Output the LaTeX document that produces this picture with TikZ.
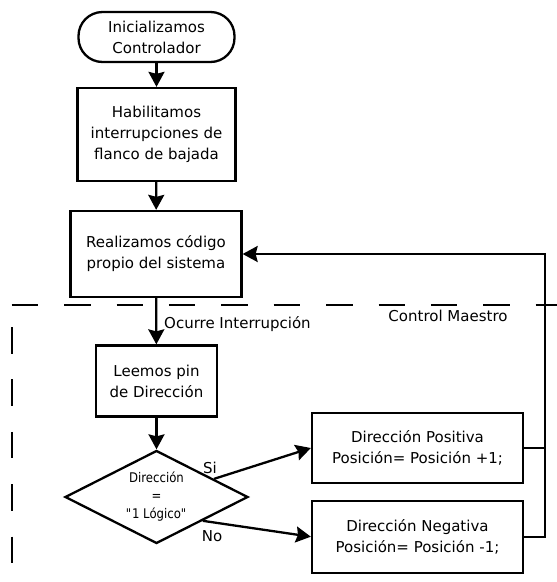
\documentclass[tikz,border=0pt]{standalone}
\usepackage{fontspec}
\setmainfont{DejaVu Sans}
\newfontfamily\condfont[FakeStretch=0.88]{DejaVu Sans}
\usetikzlibrary{shapes.geometric,arrows.meta,calc}
\begin{document}
\begin{tikzpicture}[x=1pt,y=-1pt,
  font=\fontsize{15}{21}\selectfont,
  box/.style={draw,line width=2.3pt,align=center,inner sep=0pt},
  term/.style={box,rounded corners=24pt},
  dec/.style={draw,line width=2.3pt,shape=diamond,aspect=2,inner sep=0pt,align=center,font=\condfont\fontsize{13.3}{18}\selectfont},
  flow/.style={line width=2.3pt,-{Stealth[length=15pt,width=16pt,inset=2pt]}},
  link/.style={line width=2.3pt},
  sep/.style={line width=2.3pt,dash pattern=on 26.5pt off 25.9pt}
]
\useasboundingbox (0,0) rectangle (557,582);
\node[term,minimum width=156pt,minimum height=50pt] (start) at (156.5,37) {Inicializamos\\Controlador};
\node[box,minimum width=158pt,minimum height=93pt] (hab) at (156.5,134.5) {Habilitamos\\interrupciones de\\flanco de bajada};
\node[box,minimum width=171pt,minimum height=86pt] (real) at (156,254) {Realizamos código\\propio del sistema};
\node[box,minimum width=121pt,minimum height=71pt] (lee) at (156.5,381) {Leemos pin\\de Dirección};
\node[dec,minimum width=183pt,minimum height=93pt] (dir) at (156.5,497) {Dirección\\=\\\textquotedbl 1 Lógico\textquotedbl};
\node[box,minimum width=211pt,minimum height=70pt] (pos) at (417.5,448) {Dirección Positiva\\Posición= Posición +1;};
\node[box,minimum width=211pt,minimum height=72pt] (neg) at (417.5,536.7) {Dirección Negativa\\Posición= Posición -1;};

\node[anchor=west,inner sep=0pt] (occ) at (164,324) {Ocurre Interrupción};
\node[inner sep=0pt] (cm) at (448,316) {Control Maestro};
\node[inner sep=0pt] (si) at (210,467.5) {Si};
\node[inner sep=0pt] (no) at (212,536.5) {No};

\coordinate (sep0) at (11.7,305);
\coordinate (sep1) at (557,305);
\coordinate (sepv0) at (11.7,327);
\coordinate (sepv1) at (11.7,563);
\draw[sep] (sep0) -- (sep1);
\draw[sep] (sepv0) -- (sepv1);

\draw[flow] (start) -- (hab);
\draw[flow] (hab) -- (real);
\draw[flow] (real) -- (lee);
\draw[flow] (lee) -- (dir);
\coordinate (dsi) at ($(dir.north)!0.62!(dir.east)$);
\draw[flow] (dsi) -- (pos.west);
\draw[flow] (dir.south east) -- (neg.west);
\coordinate (ret) at (545,536.7);
\draw[link] (pos.east) -- (pos.east -| ret);
\draw[flow] (neg.east) -- (ret) |- (real.east);
\end{tikzpicture}
\end{document}
